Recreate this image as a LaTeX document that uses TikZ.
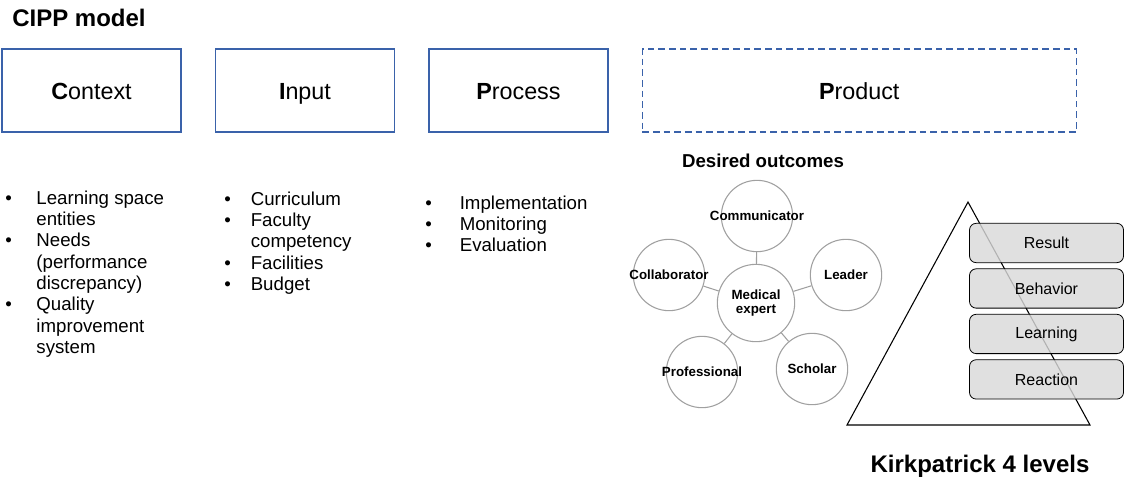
\documentclass[tikz,border=0pt]{standalone}
\usepackage{fontspec}
\setmainfont{Liberation Sans}
\usetikzlibrary{positioning}
\definecolor{boxblue}{RGB}{58,98,170}
\definecolor{ringgray}{RGB}{160,160,160}
\definecolor{levelgray}{RGB}{217,217,217}

\begin{document}
\begin{tikzpicture}
		[x=0.75pt,y=-0.75pt,
		stage/.style={draw=boxblue,line width=1.1pt,minimum width=134.5pt,minimum height=62pt,inner sep=0pt,text height=14.5pt,text depth=1pt,font=\fontsize{17.5}{20}\selectfont},
		blist/.style={anchor=base west,inner sep=0pt,font=\fontsize{14}{16}\selectfont},
		outc/.style={circle,draw=ringgray,line width=0.8pt,minimum size=53.5pt,inner sep=0pt,align=center,font=\bfseries\fontsize{10}{11}\selectfont},
		link/.style={draw=ringgray,line width=0.8pt},
		level/.style={draw=black,line width=0.6pt,fill=levelgray,fill opacity=0.82,text opacity=1,rounded corners=5pt,minimum width=115.5pt,minimum height=29.5pt,inner sep=0pt,font=\fontsize{12}{14}\selectfont}]
		\useasboundingbox (0,0) rectangle (1125,480);
		
		\node[anchor=west,inner sep=0pt,font=\bfseries\fontsize{18}{20}\selectfont] (title) at (12,18) {CIPP model};
		
		\node[stage] (context) at (91.5,90.5) {\textbf{C}ontext};
		\node[stage,right=24.5pt of context] (input) {\textbf{I}nput};
		\node[stage,right=24.5pt of input] (process) {\textbf{P}rocess};
		\node[stage,right=24.5pt of process,minimum width=325.5pt,dash pattern=on 5pt off 3pt] (product) {\textbf{P}roduct};
		
		\node[blist] (clist) at (5,204) {\begin{tabular}[t]{@{}l@{\hspace{18.5pt}}l@{}}
				\textbullet & Learning space\\ & entities\\
				\textbullet & Needs\\ & (performance\\ & discrepancy)\\
				\textbullet & Quality\\ & improvement\\ & system\end{tabular}};
		\node[blist] (ilist) at (224,205) {\begin{tabular}[t]{@{}l@{\hspace{15pt}}l@{}}
				\textbullet & Curriculum\\
				\textbullet & Faculty\\ & competency\\
				\textbullet & Facilities\\
				\textbullet & Budget\end{tabular}};
		\node[blist] (plist) at (425,209) {\begin{tabular}[t]{@{}l@{\hspace{21pt}}l@{}}
				\textbullet & Implementation\\
				\textbullet & Monitoring\\
				\textbullet & Evaluation\end{tabular}};
		
		\node[inner sep=0pt,font=\bfseries\fontsize{14}{16}\selectfont] (desired) at (763,161) {Desired outcomes};
		\node[outc] (comm) at (757,216) {\makebox[0pt]{Communicator}};
		\node[outc] (collab) at (669,275) {\makebox[0pt]{Collaborator}};
		\node[outc] (lead) at (846,275) {Leader};
		\node[outc,minimum size=58pt] (med) at (756,303) {Medical\\expert};
		\node[outc] (prof) at (702,372) {\makebox[0pt]{Professional}};
		\node[outc] (schol) at (812,369) {Scholar};
		
		\foreach \to in {comm,collab,lead,prof,schol}
		\draw[link] (med) -- (\to);
		
		\coordinate (apex) at (968,202);
		\coordinate (baseL) at (847,425);
		\coordinate (baseR) at (1090,425);
		\draw[line width=0.8pt] (apex) -- (baseL) -- (baseR) -- cycle;
		
		\node[level] (result) at (1046.5,243) {Result};
		\node[level,below=4pt of result] (behavior) {Behavior};
		\node[level,below=4pt of behavior] (learning) {Learning};
		\node[level,below=4pt of learning] (reaction) {Reaction};
		
		\node[inner sep=0pt,font=\bfseries\fontsize{18}{20}\selectfont] (kirk) at (980,466) {Kirkpatrick 4 levels};
		\end{tikzpicture}
\end{document}
